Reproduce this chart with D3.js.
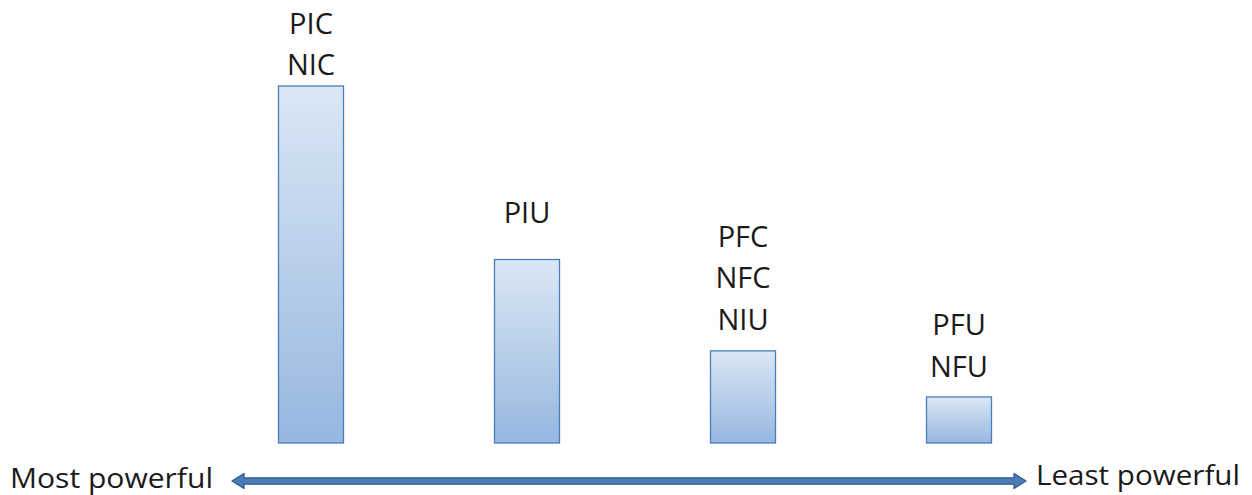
<!DOCTYPE html>
<html>
<head>
<meta charset="utf-8">
<script src="https://cdn.jsdelivr.net/npm/d3@7"></script>
<style>
  html, body { margin: 0; padding: 0; background: #fff; }
  svg { display: block; }
  text { font-family: "Open Sans", Lato, sans-serif; fill: #1a1a1a; }
</style>
</head>
<body>
<svg id="chart" width="1252" height="495"></svg>
<script>
// Data
const categories = ['A', 'B', 'C', 'D'];
const values = [100, 51.4, 25.8, 12.9];
const labels = [['PIC', 'NIC'], ['PIU'], ['PFC', 'NFC', 'NIU'], ['PFU', 'NFU']];
const axisEnds = ['Most powerful', 'Least powerful'];

// Layout
const width = 1252, height = 495;
const baseY = 443, barW = 65, lineH = 41.5;
const labelGap = [11, 37, 21, 20];

const svg = d3.select('#chart');

const x = d3.scalePoint().domain(categories).range([311, 959]);
const y = d3.scaleLinear().domain([0, 100]).range([baseY, 86]);

// Gradient for bars
const grad = svg.append('defs').append('linearGradient')
    .attr('id', 'barFill').attr('x1', 0).attr('y1', 0).attr('x2', 0).attr('y2', 1);
grad.append('stop').attr('offset', '0%').attr('stop-color', '#dbe7f5');
grad.append('stop').attr('offset', '100%').attr('stop-color', '#96b7e0');

svg.selectAll('rect.bar')
  .data(values)
  .join('rect')
    .attr('class', 'bar')
    .attr('x', (d, i) => x(categories[i]) - barW / 2)
    .attr('y', d => y(d))
    .attr('width', barW)
    .attr('height', d => baseY - y(d))
    .attr('fill', 'url(#barFill)')
    .attr('stroke', '#4a7ebb')
    .attr('stroke-width', 1.3);

// Labels stacked above each bar
labels.forEach((lines, i) => {
  const last = y(values[i]) - labelGap[i];
  svg.append('g').selectAll('text')
    .data(lines)
    .join('text')
      .attr('x', x(categories[i]))
      .attr('y', (d, j) => last - (lines.length - 1 - j) * lineH)
      .attr('text-anchor', 'middle')
      .attr('font-size', 29)
      .text(d => d);
});

// Double headed arrow
const ax0 = 232, ax1 = 1026, ay = 481;
const sh = 3.2, hh = 7.5, hl = 12;
const arrow = [
  [ax0, ay], [ax0 + hl, ay - hh], [ax0 + hl, ay - sh], [ax1 - hl, ay - sh],
  [ax1 - hl, ay - hh], [ax1, ay], [ax1 - hl, ay + hh], [ax1 - hl, ay + sh],
  [ax0 + hl, ay + sh], [ax0 + hl, ay + hh]
];
svg.append('path')
    .attr('d', d3.line()(arrow) + 'Z')
    .attr('fill', '#4a7cb6')
    .attr('stroke', '#2f5d90')
    .attr('stroke-width', 1.3)
    .attr('stroke-linejoin', 'round');

svg.append('text')
    .attr('x', 10).attr('y', 488)
    .attr('font-size', 27)
    .attr('textLength', 203).attr('lengthAdjust', 'spacingAndGlyphs')
    .text(axisEnds[0]);
svg.append('text')
    .attr('x', 1036).attr('y', 485)
    .attr('font-size', 27)
    .attr('textLength', 204).attr('lengthAdjust', 'spacingAndGlyphs')
    .text(axisEnds[1]);
</script>
</body>
</html>
